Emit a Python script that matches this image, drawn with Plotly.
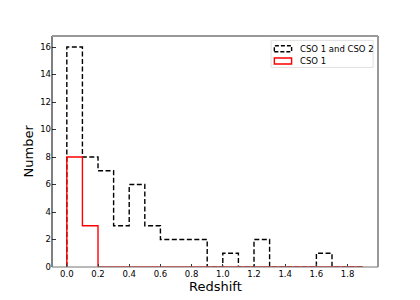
import plotly.graph_objects as go

bin_edges = [round(0.1 * i, 1) for i in range(20)]  # 0.0 .. 1.9
counts_all = [16, 8, 7, 3, 6, 3, 2, 2, 2, 0, 1, 0, 2, 0, 0, 0, 1, 0, 0]
counts_cso1 = [8, 3, 0, 0, 0, 0, 0, 0, 0, 0, 0, 0, 0, 0, 0, 0, 0, 0, 0]
x_ticks = [0.0, 0.2, 0.4, 0.6, 0.8, 1.0, 1.2, 1.4, 1.6, 1.8]
y_ticks = list(range(0, 17, 2))
names = ["CSO 1 and CSO 2", "CSO 1"]
x_title = "Redshift"
y_title = "Number"


def step_path(edges, counts):
    xs, ys = [edges[0]], [0]
    for i, c in enumerate(counts):
        xs += [edges[i], edges[i + 1]]
        ys += [c, c]
    xs.append(edges[-1])
    ys.append(0)
    return xs, ys


fig = go.Figure()
xa, ya = step_path(bin_edges, counts_all)
xb, yb = step_path(bin_edges, counts_cso1)
fig.add_trace(go.Scatter(x=xa, y=ya, mode="lines", name=names[0], showlegend=False,
                         line=dict(color="black", width=1.4, dash="5px,2.5px")))
fig.add_trace(go.Scatter(x=xb, y=yb, mode="lines", name=names[1], showlegend=False,
                         line=dict(color="#ff0000", width=1.4)))

font = "DejaVu Sans, sans-serif"
# spines
fig.add_shape(type="line", xref="paper", yref="paper", x0=0, x1=0, y0=0, y1=1,
              line=dict(color="black", width=1), layer="above")
for (x0, y0, x1, y1) in [(0, 1, 1, 1), (1, 0, 1, 1)]:
    fig.add_shape(type="line", xref="paper", yref="paper", x0=x0, x1=x1, y0=y0, y1=y1,
                  line=dict(color="#999999", width=2), layer="above")
fig.add_shape(type="line", xref="paper", yref="paper", x0=0, x1=1, y0=0, y1=0,
              line=dict(color="#808080", width=2), opacity=0.55, layer="above")

# manual legend
fig.add_shape(type="rect", xref="paper", yref="paper", x0=0.672, x1=0.985, y0=0.864, y1=0.981,
              line=dict(color="#dddddd", width=1), fillcolor="white", opacity=0.9)
leg_y = [0.945, 0.892]
fig.add_shape(type="rect", xref="paper", yref="paper", x0=0.682, x1=0.735,
              y0=leg_y[0] - 0.013, y1=leg_y[0] + 0.013,
              line=dict(color="black", width=1.4, dash="4px,2px"))
fig.add_shape(type="rect", xref="paper", yref="paper", x0=0.682, x1=0.735,
              y0=leg_y[1] - 0.013, y1=leg_y[1] + 0.013,
              line=dict(color="#ff0000", width=1.4))
for nm, yy in zip(names, leg_y):
    fig.add_annotation(xref="paper", yref="paper", x=0.755, y=yy, text=nm, showarrow=False,
                       xanchor="left", yanchor="middle", font=dict(family=font, size=8.5, color="black"))

# axis titles
fig.add_annotation(xref="paper", yref="paper", x=0.5, y=0, yshift=-19, text=x_title,
                   showarrow=False, xanchor="center", yanchor="middle",
                   font=dict(family=font, size=13, color="black"))
fig.add_annotation(xref="paper", yref="paper", x=0, y=0.5, xshift=-24, text=y_title,
                   textangle=-90, showarrow=False, xanchor="center", yanchor="middle",
                   font=dict(family=font, size=13, color="black"))

fig.update_layout(
    width=420, height=300,
    margin=dict(l=52, r=42, t=36, b=33),
    paper_bgcolor="white", plot_bgcolor="white",
    showlegend=False,
    font=dict(family=font, size=8.5, color="black"),
)
fig.update_xaxes(range=[-0.095, 1.995], tickvals=x_ticks, automargin=False,
                 ticktext=[f"{v:.1f}" for v in x_ticks],
                 ticks="inside", ticklen=3.5, tickwidth=1, tickcolor="#333333",
                 showgrid=False, zeroline=False, showline=False)
fig.update_yaxes(range=[0, 16.8], tickvals=y_ticks, automargin=False,
                 ticks="inside", ticklen=3.5, tickwidth=1, tickcolor="#333333",
                 showgrid=False, zeroline=False, showline=False)

fig.write_html("out.html", config={"displayModeBar": False},
               post_script="document.body.style.margin='0';document.body.style.overflow='hidden';")
